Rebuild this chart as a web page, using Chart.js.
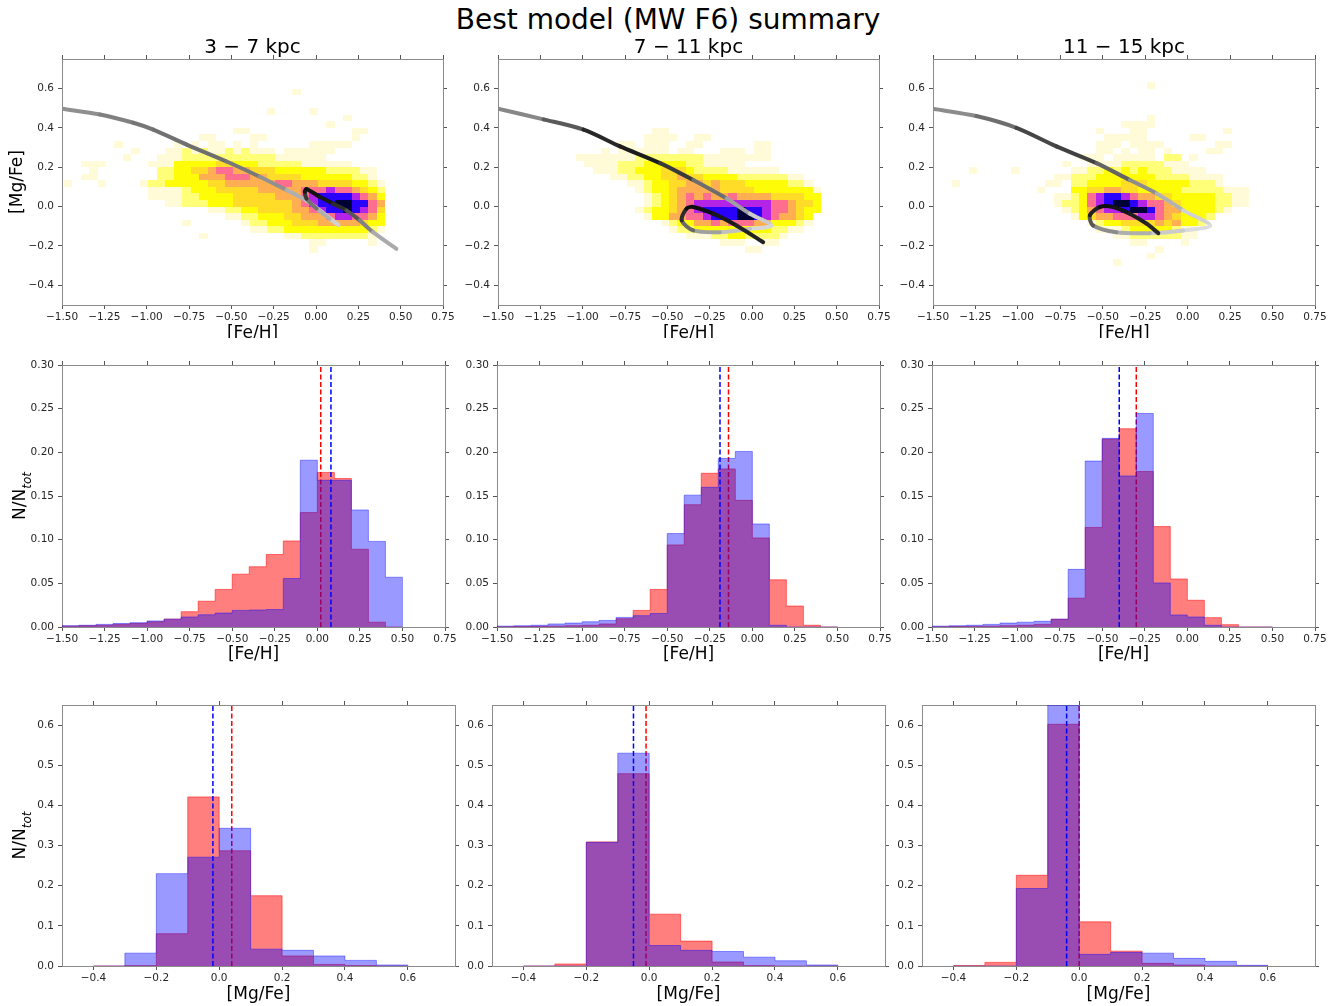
<!DOCTYPE html>
<html>
<head>
<meta charset="utf-8">
<title>Best model (MW F6) summary</title>
<script src="https://cdn.jsdelivr.net/npm/chart.js@4.4.1/dist/chart.umd.min.js"></script>
<style>
  html, body { margin: 0; padding: 0; background: #fff; overflow: hidden; }
  body { width: 1341px; height: 1006px; position: relative; font-family: 'DejaVu Sans', sans-serif; }
  .clip { position: absolute; overflow: hidden; }
  .box { position: absolute; left: 0; top: 0; }
  #suptitle { position: absolute; left: 0; top: 3px; width: 1336px; text-align: center; font-size: 28px; line-height: 34px; color: #000; }
</style>
</head>
<body>
<div id="suptitle">Best model (MW F6) summary</div>
<script>
const radialBins = ['3 \u2212 7 kpc', '7 \u2212 11 kpc', '11 \u2212 15 kpc'];

const feTicks = [-1.5, -1.25, -1.0, -0.75, -0.5, -0.25, 0.0, 0.25, 0.5, 0.75];
const mgTicks = [-0.4, -0.2, 0.0, 0.2, 0.4, 0.6];
const feFracTicks = [0, 0.05, 0.1, 0.15, 0.2, 0.25, 0.3];
const mgFracTicks = [0, 0.1, 0.2, 0.3, 0.4, 0.5, 0.6];

// histogram bin edges
const feEdges = [-1.5, -1.4, -1.3, -1.2, -1.1, -1.0, -0.9, -0.8, -0.7, -0.6, -0.5, -0.4, -0.3, -0.2, -0.1, 0.0, 0.1, 0.2, 0.3, 0.4, 0.5];
const mgEdges = [-0.4, -0.3, -0.2, -0.1, 0.0, 0.1, 0.2, 0.3, 0.4, 0.5, 0.6];

// [Fe/H] distributions, one value per bin
const feBlue37 = [0.0015, 0.002, 0.003, 0.004, 0.005, 0.007, 0.009, 0.0115, 0.014, 0.016, 0.019, 0.0195, 0.020, 0.0555, 0.191, 0.168, 0.168, 0.134, 0.098, 0.057];
const feRed37 = [0.001, 0.0015, 0.002, 0.003, 0.004, 0.006, 0.009, 0.0175, 0.0295, 0.043, 0.0605, 0.069, 0.083, 0.0985, 0.131, 0.177, 0.170, 0.089, 0.0055, 0];
const feBlue711 = [0.001, 0.0015, 0.002, 0.0035, 0.0045, 0.006, 0.0075, 0.011, 0.013, 0.0155, 0.107, 0.151, 0.160, 0.193, 0.201, 0.118, 0.002, 0, 0, 0];
const feRed711 = [0.0003, 0.0005, 0.0008, 0.001, 0.0015, 0.002, 0.0035, 0.0095, 0.019, 0.043, 0.094, 0.140, 0.176, 0.181, 0.145, 0.102, 0.054, 0.024, 0.002, 0];
const feBlue1115 = [0.001, 0.0015, 0.002, 0.003, 0.0045, 0.0055, 0.0065, 0.009, 0.066, 0.190, 0.216, 0.173, 0.2445, 0.0505, 0.0138, 0.0115, 0.002, 0, 0, 0];
const feRed1115 = [0.0003, 0.0005, 0.0007, 0.001, 0.0015, 0.002, 0.003, 0.0088, 0.033, 0.114, 0.215, 0.227, 0.178, 0.115, 0.055, 0.0306, 0.0107, 0.0027, 0, 0];

// [Mg/Fe] distributions
const mgBlue37 = [0, 0.032, 0.230, 0.271, 0.343, 0.042, 0.039, 0.025, 0.014, 0.0025];
const mgRed37 = [0, 0.001, 0.0805, 0.421, 0.287, 0.175, 0.025, 0.004, 0.001, 0];
const mgBlue711 = [0, 0, 0.308, 0.530, 0.051, 0.039, 0.036, 0.022, 0.013, 0.0025];
const mgRed711 = [0, 0.005, 0.309, 0.479, 0.129, 0.062, 0.010, 0.001, 0, 0];
const mgBlue1115 = [0, 0, 0.193, 0.70, 0.029, 0.034, 0.032, 0.019, 0.0116, 0.0017];
const mgRed1115 = [0.001, 0.009, 0.226, 0.602, 0.110, 0.037, 0.0066, 0.0025, 0, 0];

// medians (dashed lines)
const feMedBlue = [0.08, -0.19, -0.40];
const feMedRed = [0.02, -0.14, -0.30];
const mgMedBlue = [-0.02, -0.05, -0.04];
const mgMedRed = [0.04, -0.01, 0.0];

// model tracks
const track37Fe = [-1.5, -1.276, -1.079, -0.961, -0.764, -0.528, -0.332, -0.174, -0.056, 0.131, 0.081, 0.003, -0.056, -0.066, -0.056, 0.022, 0.101, 0.180, 0.258, 0.337, 0.475];
const track37Mg = [0.497, 0.468, 0.426, 0.391, 0.315, 0.229, 0.152, 0.084, 0.030, -0.092, -0.062, -0.010, 0.041, 0.075, 0.089, 0.050, 0.015, -0.019, -0.070, -0.130, -0.215];
const track37Shade = [150, 135, 120, 115, 110, 110, 130, 160, 190, 215, 200, 150, 80, 30, 15, 20, 30, 60, 110, 150, 190];

const track711Fe = [-1.5, -1.231, -0.995, -0.779, -0.543, -0.347, -0.150, -0.012, 0.115, -0.012, -0.19, -0.347, -0.415, -0.386, -0.347, -0.229, -0.092, 0.066];
const track711Mg = [0.497, 0.443, 0.391, 0.306, 0.221, 0.135, 0.041, -0.036, -0.096, -0.113, -0.130, -0.121, -0.070, -0.010, -0.002, -0.036, -0.096, -0.181];
const track711Shade = [150, 120, 60, 20, 35, 80, 140, 180, 225, 205, 180, 140, 70, 20, 10, 20, 30, 40];

const track1115Fe = [-1.5, -1.245, -1.009, -0.773, -0.537, -0.341, -0.183, -0.026, 0.131, -0.026, -0.223, -0.42, -0.557, -0.576, -0.517, -0.439, -0.341, -0.242, -0.173];
const track1115Mg = [0.497, 0.46, 0.40, 0.306, 0.221, 0.135, 0.067, -0.019, -0.096, -0.121, -0.135, -0.130, -0.096, -0.044, -0.002, -0.002, -0.036, -0.087, -0.135];
const track1115Shade = [150, 130, 90, 50, 80, 120, 160, 195, 225, 215, 190, 160, 120, 50, 15, 15, 25, 35, 45];

// 2D density: [row k (y = k/30), first x bin, levels per bin]
const heatX0 = -1.49;
const heatDX = 0.05;
const heatDY = 1 / 30;

const heat37 = [
  [17, 27, '1'],
  [14, 24, '1....1'],
  [13, 33, '1'],
  [12, 31, '1'],
  [11, 20, '11............11'],
  [10, 16, '11....11..........1'],
  [9, 6, '1......1.1.11.1.1......11111'],
  [8, 8, '1...1121211212111.111111'],
  [7, 7, '1...11122222222222111111'],
  [6, 2, '111.....111333334433322222111111'],
  [5, 3, '1.......22334456655444333333222211'],
  [4, 2, '11.......22333555666554444333333221'],
  [3, 0, '1...1....12233333445555556655544443321'],
  [2, 10, '1111233344444555556667665432'],
  [1, 10, '1111223333444445556788887653'],
  [0, 12, '11222333444444456788998865'],
  [-1, 17, '112233444455678898764'],
  [-2, 19, '1122333445556776653'],
  [-3, 14, '1......12233344455555433'],
  [-4, 22, '1122333333333321'],
  [-5, 16, '1.........11222222221'],
  [-6, 29, '11.....1'],
  [-7, 29, '1'],
];

const heat711 = [
  [11, 18, '11'],
  [10, 17, '1111..11'],
  [9, 14, '11.111..11......11'],
  [8, 12, '1.111111.11...111.11'],
  [7, 9, '11111112222222211111111'],
  [6, 10, '1111222333332211111'],
  [5, 11, '1112233344432222111111'],
  [4, 13, '11223344544333322222211'],
  [3, 15, '1123344554544433333221'],
  [2, 16, '1233455555444433333331'],
  [1, 17, '123456565565555444433'],
  [0, 17, '123456777777777665443'],
  [-1, 16, '1233456788889887665433'],
  [-2, 17, '13355667888998765543'],
  [-3, 19, '123355656665533321'],
  [-4, 20, '1223333333332211'],
  [-5, 22, '111223322221'],
  [-6, 26, '111..11'],
  [-7, 29, '11'],
];

const heat1115 = [
  [18, 25, '1'],
  [13, 25, '1'],
  [12, 22, '1111'],
  [11, 19, '1...11.........1'],
  [10, 20, '11111.....11'],
  [9, 19, '111.1111......11'],
  [8, 19, '11.1.11.1....11'],
  [7, 17, '111.11111.22.1'],
  [6, 15, '1..111122222111'],
  [5, 4, '1....1......1122323232221111'],
  [4, 14, '11222333333322221111'],
  [3, 2, '1..........11.223333444333332221'],
  [2, 12, '1...334455443333322222111'],
  [1, 14, '11236788765544333332211'],
  [0, 14, '12236789987665433332211'],
  [-1, 15, '12356778998655333321'],
  [-2, 16, '13455666776543332'],
  [-3, 18, '12334444545332'],
  [-4, 19, '111233333211'],
  [-5, 21, '1122222211'],
  [-6, 23, '11....1'],
  [-7, 26, '1'],
  [-8, 25, '1'],
  [-9, 21, '1'],
];

// gnuplot2_r-like palette, index = density level
const heatPalette = [null, '#fffbd8', '#ffff78', '#fffc08', '#ffdc28', '#ffae52', '#ff6e8e', '#b424e6', '#2a00ff', '#000038'];

// plot areas in page pixels
const plotRows = [{ top: 59, bottom: 305 }, { top: 365, bottom: 627 }, { top: 705, bottom: 966 }];
const plotCols = [
  [[62, 443], [498, 879], [933, 1315]],
  [[62, 445], [497, 880], [932, 1315]],
  [[62, 455], [492, 885], [922, 1315]],
];

Chart.defaults.font.family = "'DejaVu Sans', sans-serif";
Chart.defaults.color = '#262626';

function fmt(v, d) {
  const s = Math.abs(v).toFixed(d);
  return (v < -1e-9 ? '\u2212' : '') + s;
}

const GRID = { drawOnChartArea: false, drawTicks: true, tickLength: 4, tickWidth: 1, tickColor: '#555' };
const BORDER = { display: true, color: '#8c8c8c', width: 1 };
const TICK_FONT = { size: 10.5 };
const LABEL_FONT = { size: 17 };

function buildScales(o) {
  const setTicks = vals => s => { s.ticks = vals.map(v => ({ value: v })); };
  return {
    x: {
      type: 'linear', position: 'bottom', min: o.xRange[0], max: o.xRange[1],
      grid: GRID, border: BORDER,
      afterBuildTicks: setTicks(o.xTicks),
      afterFit: s => { s.height = o.pad.b; },
      ticks: { font: TICK_FONT, padding: 2, maxRotation: 0, minRotation: 0, autoSkip: false, callback: v => fmt(v, o.xDec) },
      title: { display: true, text: o.xTitle, font: LABEL_FONT, color: '#000', padding: { top: 0, bottom: o.xTitlePad } },
    },
    xTop: {
      type: 'linear', position: 'top', min: o.xRange[0], max: o.xRange[1],
      grid: GRID, border: BORDER,
      afterBuildTicks: setTicks(o.xTicks),
      afterFit: s => { s.height = o.pad.t; },
      ticks: { display: false },
      title: o.colTitle
        ? { display: true, text: o.colTitle, font: { size: 20 }, color: '#000', padding: { top: 7, bottom: 0 } }
        : { display: false },
    },
    y: {
      type: 'linear', position: 'left', min: o.yRange[0], max: o.yRange[1],
      grid: GRID, border: BORDER,
      afterBuildTicks: setTicks(o.yTicks),
      afterFit: s => { s.width = o.pad.l; },
      ticks: { font: TICK_FONT, padding: 4, autoSkip: false, callback: v => fmt(v, o.yDec) },
      title: o.yTitle
        ? { display: true, text: o.yTitle, font: LABEL_FONT, color: '#000', padding: { top: 7, bottom: 0 } }
        : { display: false },
    },
    yRight: {
      type: 'linear', position: 'right', min: o.yRange[0], max: o.yRange[1],
      grid: GRID, border: BORDER,
      afterBuildTicks: setTicks(o.yTicks),
      afterFit: s => { s.width = o.pad.r; },
      ticks: { display: false },
    },
  };
}

function mountCanvas(left, top, width, height, clipHeight) {
  const outer = document.createElement('div');
  outer.className = 'clip';
  outer.style.cssText = `left:${left}px;top:${top}px;width:${width}px;height:${clipHeight || height}px;`;
  const inner = document.createElement('div');
  inner.className = 'box';
  inner.style.cssText = `width:${width}px;height:${height}px;`;
  const canvas = document.createElement('canvas');
  inner.appendChild(canvas);
  outer.appendChild(inner);
  document.body.appendChild(outer);
  return canvas;
}

function makeChart(row, col, datasets, scaleOpts, plugins) {
  const [l, r] = plotCols[row][col];
  const { top: t, bottom: b } = plotRows[row];
  const pad = { l: col === 0 ? l : 45, r: 22, t: row === 0 ? 30 : 20, b: row === 1 ? 45 : 40 };
  const left = l - pad.l;
  const top = t - pad.t;
  const width = (r - l) + pad.l + pad.r;
  const height = (b - t) + pad.t + pad.b;
  const canvas = mountCanvas(left, top, width, height, row === 0 ? 338 - top : 0);
  return new Chart(canvas, {
    type: 'line',
    data: { datasets },
    options: {
      responsive: true,
      maintainAspectRatio: false,
      animation: false,
      events: [],
      layout: { padding: 0 },
      plugins: { legend: { display: false }, tooltip: { enabled: false } },
      scales: buildScales({ ...scaleOpts, pad }),
    },
    plugins: plugins || [],
  });
}

function heatPlugin(rows) {
  return {
    id: 'heat',
    beforeDatasetsDraw(chart) {
      const { ctx, chartArea: a, scales: { x, y } } = chart;
      ctx.save();
      ctx.beginPath();
      ctx.rect(a.left, a.top, a.right - a.left, a.bottom - a.top);
      ctx.clip();
      rows.forEach(([k, start, cells]) => {
        for (let j = 0; j < cells.length; j += 1) {
          const c = cells[j];
          if (c === '.') continue;
          const x0 = heatX0 + (start + j) * heatDX;
          const y0 = k * heatDY;
          const px0 = Math.round(x.getPixelForValue(x0));
          const px1 = Math.round(x.getPixelForValue(x0 + heatDX));
          const py0 = Math.round(y.getPixelForValue(y0));
          const py1 = Math.round(y.getPixelForValue(y0 + heatDY));
          ctx.fillStyle = heatPalette[Number(c)];
          ctx.fillRect(px0, py1, px1 - px0, py0 - py1);
        }
      });
      ctx.restore();
    },
  };
}

const fracLabel = {
  id: 'fracLabel',
  afterDraw(chart) {
    const { ctx, chartArea: a } = chart;
    ctx.save();
    ctx.translate(a.left - 43, (a.top + a.bottom) / 2);
    ctx.rotate(-Math.PI / 2);
    ctx.fillStyle = '#000';
    ctx.textBaseline = 'alphabetic';
    ctx.font = "17px 'DejaVu Sans'";
    const w1 = ctx.measureText('N/N').width;
    ctx.font = "italic 12px 'DejaVu Sans'";
    const w2 = ctx.measureText('tot').width;
    const x0 = -(w1 + w2) / 2;
    ctx.font = "17px 'DejaVu Sans'";
    ctx.fillText('N/N', x0, 6);
    ctx.font = "italic 12px 'DejaVu Sans'";
    ctx.fillText('tot', x0 + w1, 12);
    ctx.restore();
  },
};

function trackDataset(fe, mg, shade) {
  return {
    data: fe.map((v, i) => ({ x: v, y: mg[i] })),
    borderWidth: 4,
    tension: 0.3,
    pointRadius: 0,
    fill: false,
    borderColor: '#888',
    borderCapStyle: 'round',
    borderJoinStyle: 'round',
    clip: 0,
    segment: {
      borderColor: ctx => {
        const s = Math.round((shade[ctx.p0DataIndex] + shade[ctx.p1DataIndex]) / 2);
        return `rgb(${s},${s},${s})`;
      },
    },
  };
}

function stepPoints(edges, vals) {
  const pts = [{ x: edges[0], y: 0 }];
  vals.forEach((v, i) => pts.push({ x: edges[i], y: v }));
  pts.push({ x: edges[edges.length - 1], y: vals[vals.length - 1] });
  pts.push({ x: edges[edges.length - 1], y: 0 });
  return pts;
}

function histDataset(edges, vals, color, order) {
  return {
    data: stepPoints(edges, vals),
    stepped: 'before',
    fill: 'origin',
    backgroundColor: color,
    borderColor: color,
    borderWidth: 1,
    pointRadius: 0,
    tension: 0,
    clip: 0,
    order,
  };
}

function medianDataset(value, top, color, order) {
  return {
    data: [{ x: value, y: 0 }, { x: value, y: top }],
    borderColor: color,
    borderWidth: 1.5,
    borderDash: [5, 2.5],
    pointRadius: 0,
    fill: false,
    clip: 0,
    order,
  };
}

const RED = 'rgba(255,0,0,0.5)';
const BLUE = 'rgba(0,0,255,0.4)';

// top row: [Mg/Fe] vs [Fe/H]
const heats = [heat37, heat711, heat1115];
const tracks = [
  [track37Fe, track37Mg, track37Shade],
  [track711Fe, track711Mg, track711Shade],
  [track1115Fe, track1115Mg, track1115Shade],
];
tracks.forEach((tr, c) => {
  makeChart(0, c, [trackDataset(tr[0], tr[1], tr[2])], {
    xRange: [-1.5, 0.75], yRange: [-0.5, 0.75],
    xTicks: feTicks, yTicks: mgTicks, xDec: 2, yDec: 1,
    xTitle: '[Fe/H]', xTitlePad: 1,
    yTitle: c === 0 ? '[Mg/Fe]' : null,
    colTitle: radialBins[c],
  }, [heatPlugin(heats[c])]);
});

// middle row: [Fe/H] distributions
const feSets = [[feBlue37, feRed37], [feBlue711, feRed711], [feBlue1115, feRed1115]];
feSets.forEach(([blue, red], c) => {
  makeChart(1, c, [
    histDataset(feEdges, red, RED, 4),
    medianDataset(feMedRed[c], 0.3, '#ff0000', 3),
    histDataset(feEdges, blue, BLUE, 2),
    medianDataset(feMedBlue[c], 0.3, '#0000ff', 1),
  ], {
    xRange: [-1.5, 0.75], yRange: [0, 0.3],
    xTicks: feTicks, yTicks: feFracTicks, xDec: 2, yDec: 2,
    xTitle: '[Fe/H]', xTitlePad: 7,
  }, c === 0 ? [fracLabel] : []);
});

// bottom row: [Mg/Fe] distributions
const mgSets = [[mgBlue37, mgRed37], [mgBlue711, mgRed711], [mgBlue1115, mgRed1115]];
mgSets.forEach(([blue, red], c) => {
  makeChart(2, c, [
    histDataset(mgEdges, red, RED, 4),
    medianDataset(mgMedRed[c], 0.65, '#ff0000', 3),
    histDataset(mgEdges, blue, BLUE, 2),
    medianDataset(mgMedBlue[c], 0.65, '#0000ff', 1),
  ], {
    xRange: [-0.5, 0.75], yRange: [0, 0.65],
    xTicks: mgTicks, yTicks: mgFracTicks, xDec: 1, yDec: 1,
    xTitle: '[Mg/Fe]', xTitlePad: 1,
  }, c === 0 ? [fracLabel] : []);
});
</script>
</body>
</html>
